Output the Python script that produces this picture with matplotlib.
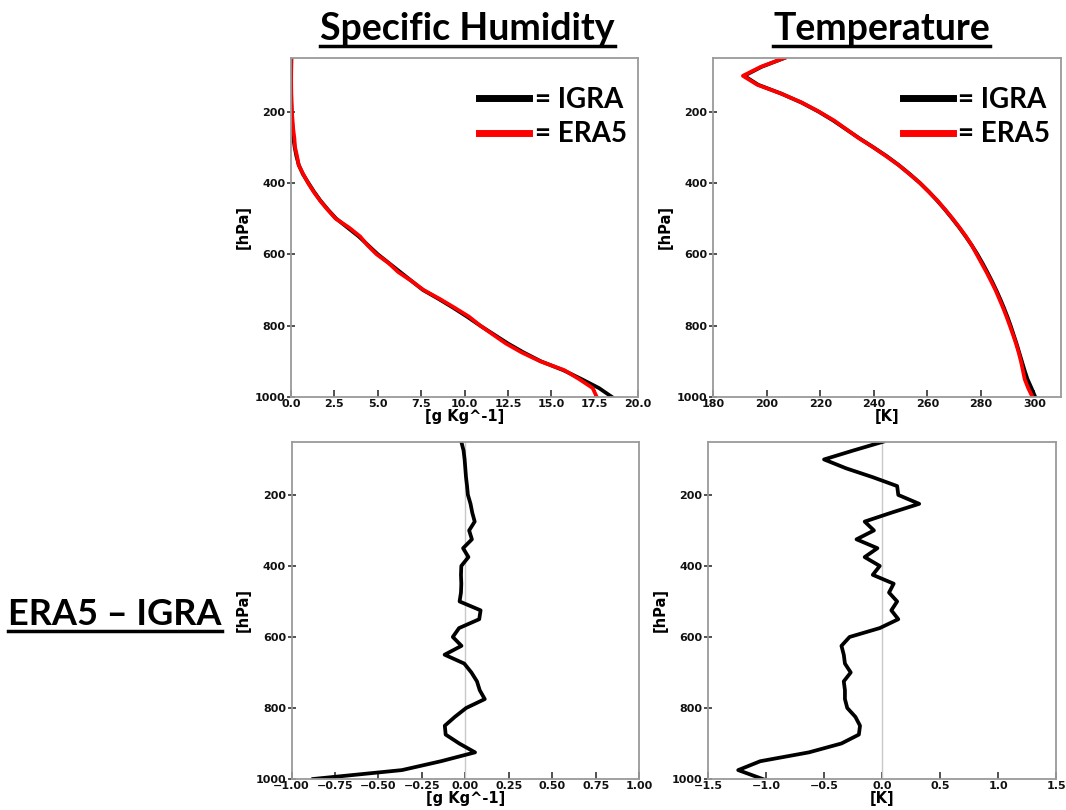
import numpy as np
import matplotlib
matplotlib.use("Agg")
import matplotlib.pyplot as plt
from matplotlib.lines import Line2D

# Pressure levels [hPa]
levels = [50, 75, 100, 125, 150, 175, 200, 225, 250, 275, 300, 325, 350, 375,
          400, 425, 450, 475, 500, 525, 550, 575, 600, 625, 650, 675, 700, 725,
          750, 775, 800, 825, 850, 875, 900, 925, 950, 975, 1000]

# Mean specific humidity profiles [g/kg]
q_igra = [0.025, 0.014, 0.009, 0.008, 0.010, 0.018, 0.035, 0.060, 0.090, 0.140,
          0.210, 0.310, 0.450, 0.680, 1.000, 1.330, 1.700, 2.130, 2.600, 3.250,
          3.900, 4.450, 5.000, 5.650, 6.300, 6.950, 7.600, 8.500, 9.350, 10.150,
          10.900, 11.700, 12.500, 13.400, 14.400, 15.700, 16.750, 17.750, 18.500]
q_era5 = [0.002, 0.004, 0.005, 0.008, 0.014, 0.028, 0.050, 0.090, 0.130, 0.194,
          0.232, 0.348, 0.437, 0.698, 0.977, 1.305, 1.677, 2.105, 2.567, 3.338,
          3.980, 4.414, 4.928, 5.628, 6.181, 6.944, 7.635, 8.567, 9.433, 10.262,
          10.905, 11.640, 12.382, 13.287, 14.365, 15.756, 16.610, 17.385, 17.625]

# Mean temperature profiles [K]
t_igra = [206.6, 198.0, 191.6, 196.8, 205.5, 213.0, 219.3, 224.8, 229.7, 234.6,
          239.8, 244.8, 249.3, 253.4, 257.2, 260.6, 263.7, 266.6, 269.3, 271.9,
          274.3, 276.6, 278.7, 280.6, 282.4, 284.1, 285.7, 287.2, 288.6, 289.9,
          291.1, 292.2, 293.3, 294.3, 295.3, 296.3, 297.4, 298.9, 300.3]
t_era5 = [206.61, 197.75, 191.10, 196.49, 205.42, 213.13, 219.44, 225.12, 229.78,
          234.45, 239.73, 244.58, 249.26, 253.25, 257.18, 260.52, 263.80, 266.66,
          269.43, 271.98, 274.44, 276.58, 278.42, 280.25, 282.07, 283.78, 285.43,
          286.87, 288.28, 289.58, 290.80, 291.97, 293.11, 294.10, 294.95, 295.67,
          296.35, 297.66, 299.27]

p = np.array(levels)
q_diff = np.array(q_era5) - np.array(q_igra)
t_diff = np.array(t_era5) - np.array(t_igra)

fig = plt.figure(figsize=(10.66, 8.10), dpi=100)

ax_q = fig.add_axes([0.273, 0.5099, 0.3255, 0.4185])
ax_t = fig.add_axes([0.669, 0.5099, 0.3265, 0.4185])
ax_dq = fig.add_axes([0.2735, 0.0383, 0.3260, 0.4164])
ax_dt = fig.add_axes([0.6642, 0.0383, 0.3265, 0.4164])


def style(ax, xlim, xticks, xlabel):
    ax.set_xlim(*xlim)
    ax.set_ylim(1000, 50)
    ax.set_xticks(xticks)
    ax.set_yticks([200, 400, 600, 800, 1000])
    for s in ax.spines.values():
        s.set_color("#9a9a9a")
        s.set_linewidth(1.3)
    ax.tick_params(axis="x", direction="in", length=5, width=1.2,
                   color="#333333", labelsize=8, pad=1.5)
    ax.tick_params(axis="y", direction="inout", length=6, width=1.2,
                   color="#333333", labelsize=8, pad=1)
    for lbl in ax.get_xticklabels() + ax.get_yticklabels():
        lbl.set_fontweight("bold")
        lbl.set_color("#111111")
    ax.set_xlabel(xlabel, fontsize=10.5, fontweight="bold", labelpad=0)
    ax.set_ylabel("[hPa]", fontsize=10.5, fontweight="bold", labelpad=3)


legend_font = {"family": "Lato", "weight": "bold", "size": 20}

# Top row: mean profiles
ax_q.plot(q_igra, p, color="black", lw=2.7, label="= IGRA")
ax_q.plot(q_era5, p, color="red", lw=2.7, label="= ERA5")
style(ax_q, (0, 20), np.arange(0, 20.01, 2.5), "[g Kg^-1]")

ax_t.plot(t_igra, p, color="black", lw=2.7, label="= IGRA")
ax_t.plot(t_era5, p, color="red", lw=2.7, label="= ERA5")
style(ax_t, (180, 310), np.arange(180, 301, 20), "[K]")

for ax in (ax_q, ax_t):
    leg = ax.legend(loc="upper right", bbox_to_anchor=(1.0, 0.947),
                    frameon=False, prop=legend_font, handlelength=1.8,
                    handletextpad=0.2, labelspacing=0.3, borderaxespad=0)
    for h in leg.get_lines():
        h.set_linewidth(5)

# Bottom row: ERA5 - IGRA differences
ax_dq.axvline(0, color="#c8c8c8", lw=1)
ax_dq.plot(q_diff, p, color="black", lw=2.7)
style(ax_dq, (-1, 1), np.arange(-1, 1.01, 0.25), "[g Kg^-1]")

ax_dt.axvline(0, color="#c8c8c8", lw=1)
ax_dt.plot(t_diff, p, color="black", lw=2.7)
style(ax_dt, (-1.5, 1.5), np.arange(-1.5, 1.51, 0.5), "[K]")

# Underlined headings
head_font = dict(family="Lato", weight="bold", color="black")
titles = [
    fig.text(0.4385, 1 - 40 / 810, "Specific Humidity", ha="center", va="baseline",
             fontsize=27, **head_font),
    fig.text(0.827, 1 - 40 / 810, "Temperature", ha="center", va="baseline",
             fontsize=27, **head_font),
    fig.text(0.108, 1 - 625 / 810, "ERA5 \u2013 IGRA", ha="center", va="baseline",
             fontsize=26, **head_font),
]

fig.canvas.draw()
renderer = fig.canvas.get_renderer()
W, H = fig.bbox.width, fig.bbox.height
for txt in titles:
    bb = txt.get_window_extent(renderer)
    x0, x1 = bb.x0 / W, bb.x1 / W
    y_base = txt.get_position()[1]
    y_line = y_base - 6 / H
    fig.add_artist(Line2D([x0, x1], [y_line, y_line], transform=fig.transFigure,
                          color="black", lw=2.5))

fig.savefig("out.png", dpi=100)
